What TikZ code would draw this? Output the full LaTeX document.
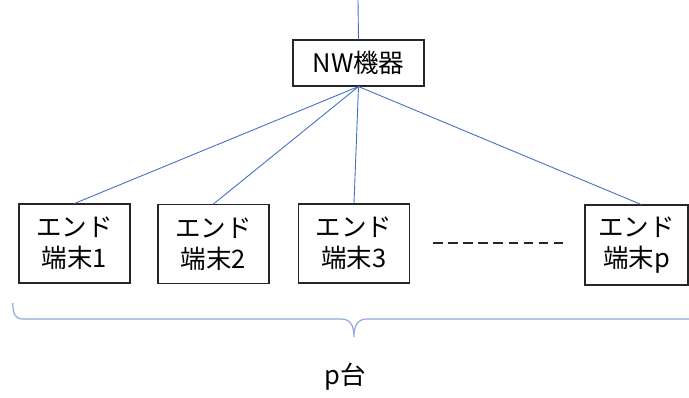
\documentclass[tikz,border=0pt]{standalone}
\usepackage{fontspec}
\setmainfont{Noto Sans CJK JP}
\usetikzlibrary{calc}
\definecolor{linkblue}{HTML}{4472C4}
\definecolor{braceblue}{HTML}{8FAADC}
\tikzset{
  box/.style={draw=black!85, line width=1.1pt, minimum width=111pt, minimum height=79pt, inner sep=0pt, align=center, font=\fontsize{25.5}{31}\selectfont},
  link/.style={draw=linkblue, line width=0.9pt},
  lbl/.style={inner sep=0pt, font=\fontsize{25.5}{31}\selectfont}
}
\begin{document}
\begin{tikzpicture}[x=1pt,y=-1pt]
\useasboundingbox (0,0) rectangle (689,398);
\node[box, minimum width=131pt, minimum height=46pt] (nw) at (358.5,63) {NW機器};
\node[box] (e1) at (74.5,243.5) {エンド\\端末1};
\node[box] (e2) at (213.5,244) {エンド\\端末2};
\node[box] (e3) at (354,243.5) {エンド\\端末3};
\node[box, minimum width=103pt, minimum height=80pt] (ep) at (636.5,245) {エンド\\端末p};
\coordinate (top) at (358,0);
\draw[link] (top) -- (nw.north);
\draw[link] (nw.south) -- (e1.north);
\draw[link] (nw.south) -- (e2.north);
\draw[link] (nw.south) -- (e3.north);
\draw[link] (nw.south) -- ($(ep.north)+(4.5,0)$);
\coordinate (d1) at (433,243);
\coordinate (d2) at (563,243);
\draw[black!85, line width=1.6pt, dash pattern=on 9.5pt off 5.6pt] (d1) -- (d2);
\coordinate (bl) at (12.7,303);
\coordinate (bt) at (354,337);
\coordinate (br) at (689,319);
\draw[braceblue, line width=1.2pt] (bl) .. controls (13,314) and (15,319) .. (23,319) -- (341,319) .. controls (350,319) and (354,325) .. (bt) .. controls (354,325) and (358,319) .. (367,319) -- (br);
\node[lbl] (cnt) at (345,377) {p台};
\end{tikzpicture}
\end{document}
